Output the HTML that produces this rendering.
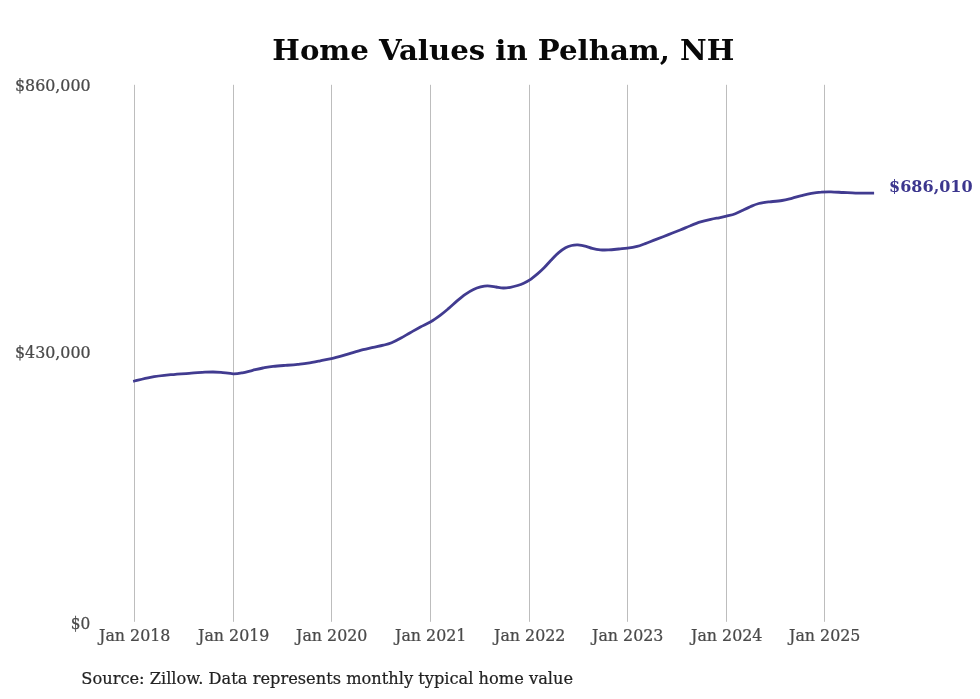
<!DOCTYPE html>
<html><head><meta charset="utf-8"><title>Home Values in Pelham, NH</title>
<style>
html,body{margin:0;padding:0;background:#fff}
body{width:980px;height:699px;overflow:hidden}
svg{display:block;font-family:"DejaVu Serif","Liberation Serif",serif}
.grid rect{fill:#bdbdbd}
.xl text{font-size:16.2px;fill:#4a4a4a;stroke:#4a4a4a;stroke-width:0.25px;text-anchor:middle}
.yl text{font-size:16.2px;fill:#4a4a4a;stroke:#4a4a4a;stroke-width:0.25px;text-anchor:end}
.title{font-size:29.2px;font-weight:bold;fill:#080808;text-anchor:middle}
.src{font-size:16.24px;fill:#222;stroke:#222;stroke-width:0.2px}
.end{font-size:16.2px;font-weight:bold;fill:#3c368e}
</style></head>
<body>
<svg width="980" height="699" viewBox="0 0 980 699">
<rect width="980" height="699" fill="#fff"/>
<text class="title" transform="translate(503.3,60.2) scale(1,0.965)">Home Values in Pelham, NH</text>
<g class="grid"><rect x="134" y="84.8" width="1" height="537"/><rect x="233" y="84.8" width="1" height="537"/><rect x="331" y="84.8" width="1" height="537"/><rect x="430" y="84.8" width="1" height="537"/><rect x="529" y="84.8" width="1" height="537"/><rect x="627" y="84.8" width="1" height="537"/><rect x="726" y="84.8" width="1" height="537"/><rect x="824" y="84.8" width="1" height="537"/></g>
<g class="yl"><text transform="translate(90.6,90.7) scale(0.98,1)">$860,000</text><text transform="translate(90.6,358.4) scale(0.98,1)">$430,000</text><text transform="translate(90.4,629.1) scale(0.95,1)">$0</text></g>
<g class="xl"><text transform="translate(134.7,640.8) scale(0.978,1)">Jan 2018</text><text transform="translate(233.7,640.8) scale(0.978,1)">Jan 2019</text><text transform="translate(331.7,640.8) scale(0.978,1)">Jan 2020</text><text transform="translate(430.7,640.8) scale(0.978,1)">Jan 2021</text><text transform="translate(529.7,640.8) scale(0.978,1)">Jan 2022</text><text transform="translate(627.7,640.8) scale(0.978,1)">Jan 2023</text><text transform="translate(726.7,640.8) scale(0.978,1)">Jan 2024</text><text transform="translate(824.7,640.8) scale(0.978,1)">Jan 2025</text></g>
<path d="M134.5,381.0 C137.2,380.4 144.3,378.4 150.4,377.3 C156.5,376.2 164.0,375.4 170.8,374.7 C177.6,374.0 185.5,373.6 191.2,373.2 C196.9,372.8 201.4,372.4 205.0,372.2 C208.6,372.0 210.3,372.0 213.0,372.0 C215.7,372.0 217.6,372.1 221.0,372.4 C224.4,372.7 229.7,373.7 233.3,373.8 C236.9,373.9 239.2,373.4 242.4,372.8 C245.6,372.2 249.3,371.1 252.7,370.3 C256.1,369.5 259.5,368.6 262.9,368.0 C266.3,367.4 269.4,366.8 273.1,366.4 C276.8,366.0 281.2,365.7 285.3,365.4 C289.4,365.1 293.9,364.8 297.6,364.4 C301.4,364.0 304.0,363.8 307.8,363.2 C311.6,362.6 316.3,361.6 320.2,360.8 C324.1,360.0 327.6,359.5 331.4,358.6 C335.1,357.8 339.1,356.7 342.7,355.7 C346.3,354.7 349.5,353.6 352.9,352.6 C356.3,351.6 359.7,350.6 363.1,349.7 C366.5,348.8 369.9,348.1 373.3,347.3 C376.7,346.6 380.4,346.0 383.5,345.2 C386.6,344.4 388.7,343.9 391.6,342.7 C394.5,341.5 397.9,339.7 401.0,338.0 C404.1,336.3 407.0,334.5 410.2,332.7 C413.4,330.9 417.0,328.8 420.4,327.0 C423.8,325.2 426.9,324.0 430.3,322.0 C433.7,320.0 437.7,317.1 440.8,314.8 C443.9,312.5 446.3,310.4 449.0,308.1 C451.7,305.8 454.4,303.2 457.1,300.9 C459.8,298.6 462.6,296.2 465.3,294.3 C468.0,292.4 470.9,290.6 473.5,289.4 C476.1,288.2 478.3,287.5 480.6,286.9 C482.9,286.3 484.9,285.8 487.5,285.8 C490.1,285.8 493.5,286.6 496.1,287.0 C498.7,287.4 500.9,287.9 503.3,288.0 C505.7,288.1 508.0,287.7 510.4,287.3 C512.8,286.9 515.4,286.2 517.6,285.5 C519.8,284.8 521.7,284.1 523.7,283.2 C525.7,282.3 527.6,281.4 529.8,279.9 C532.0,278.4 534.5,276.3 536.9,274.3 C539.3,272.3 541.7,270.1 544.1,267.7 C546.5,265.3 548.8,262.5 551.2,260.0 C553.6,257.5 556.0,254.9 558.4,252.9 C560.8,250.9 563.3,249.0 565.5,247.8 C567.7,246.6 569.6,246.0 571.6,245.5 C573.6,245.0 575.4,244.8 577.8,244.9 C580.2,245.1 583.7,245.8 586.1,246.4 C588.5,247.0 589.8,247.8 592.2,248.4 C594.6,249.0 597.7,249.6 600.4,249.8 C603.1,250.1 605.5,250.0 608.6,249.9 C611.7,249.8 615.7,249.3 618.8,249.0 C621.9,248.7 624.3,248.6 627.4,248.2 C630.5,247.8 634.1,247.2 637.1,246.4 C640.1,245.6 642.2,244.7 645.3,243.6 C648.4,242.5 651.8,241.0 655.5,239.6 C659.2,238.2 663.7,236.5 667.8,234.9 C671.9,233.3 676.4,231.5 680.2,230.0 C684.0,228.5 687.0,227.0 690.4,225.7 C693.8,224.3 697.2,222.9 700.6,221.9 C704.0,220.9 707.7,220.1 710.8,219.4 C713.9,218.7 716.4,218.3 719.0,217.8 C721.6,217.3 723.7,216.9 726.4,216.2 C729.1,215.5 732.4,214.8 735.3,213.7 C738.1,212.6 740.8,211.2 743.5,209.9 C746.2,208.6 749.1,207.2 751.6,206.1 C754.1,205.0 756.6,204.1 758.8,203.5 C761.0,202.9 763.1,202.7 764.9,202.4 C766.7,202.1 766.9,202.1 769.8,201.8 C772.6,201.5 778.3,201.1 782.0,200.5 C785.7,199.9 788.5,199.1 791.8,198.3 C795.1,197.5 798.3,196.4 801.6,195.6 C804.9,194.8 808.1,194.0 811.4,193.4 C814.7,192.8 817.9,192.4 821.2,192.2 C824.5,191.9 827.3,191.8 831.0,191.9 C834.7,192.0 839.1,192.3 843.2,192.5 C847.3,192.7 851.8,193.0 855.5,193.1 C859.2,193.2 862.4,193.2 865.3,193.2 C868.2,193.2 871.5,193.1 872.7,193.1" fill="none" stroke="#413b90" stroke-width="2.8" stroke-linecap="square" stroke-linejoin="round"/>
<text class="end" transform="translate(889,191.7) scale(0.991,1)">$686,010</text>
<text class="src" transform="translate(81.3,683.9) scale(1,1.02)">Source: Zillow. Data represents monthly typical home value</text>
</svg>
</body></html>
